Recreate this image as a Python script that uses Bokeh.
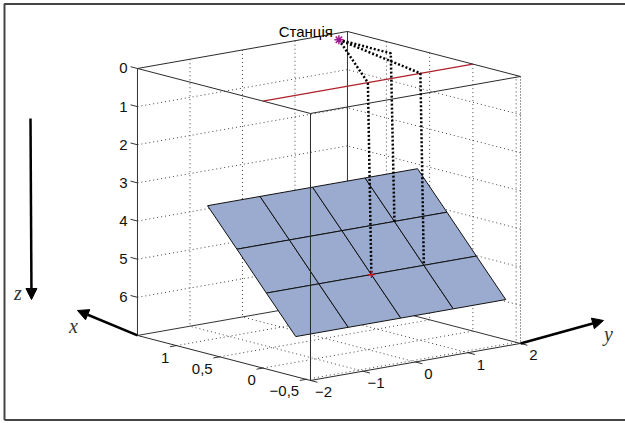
import numpy as np
from bokeh.plotting import figure
from bokeh.models import Range1d, Arrow, NormalHead
from bokeh.core.properties import value
from bokeh.embed import file_html
from bokeh.resources import INLINE

# ---------------- data ----------------
x_lim = [-0.55, 1.45]
y_lim = [-2.0, 2.0]
z_lim = [0.0, 7.0]

x_ticks = [1.0, 0.5, 0.0, -0.5]
x_tick_labels = ["1", "0,5", "0", "\u22120,5"]
y_ticks = [-2.0, -1.0, 0.0, 1.0, 2.0]
y_tick_labels = ["\u22122", "\u22121", "0", "1", "2"]
z_ticks = [0, 1, 2, 3, 4, 5, 6]
z_tick_labels = ["0", "1", "2", "3", "4", "5", "6"]

# tilted layer (plane) grid nodes
plane_x = [0.64, 0.30, -0.04, -0.38]
plane_z = [3.12, 4.06, 5.01, 5.95]
plane_y = [-2.0, -1.0, 0.0, 1.0, 2.0]

# station and ray paths
station = [1.27, 1.54, 0.0]
station_label = "Станція"
ray_top_x = [0.0, 0.67, 0.0]
ray_top_y = [0.0, 1.54, 1.0]
ray_node_ix = [2, 1, 2]
ray_node_y = [0.0, 1.0, 1.0]
red_node = [2, 0.0]          # plane x-index, y
red_line_x = 0.0             # profile line on surface (z = 0)

# ---------------- projection (layout) ----------------
O = (367.4, 82.1)
EX = (-86.5, -22.5)
EY = (52.5, -9.25)
EZ = (0.0, 38.14)


def proj(x, y, z):
    x = np.asarray(x, float); y = np.asarray(y, float); z = np.asarray(z, float)
    sx = O[0] + x * EX[0] + y * EY[0] + z * EZ[0]
    sy = O[1] + x * EX[1] + y * EY[1] + z * EZ[1]
    return sx, sy


def segs(pairs):
    xs, ys = [], []
    for a, b in pairs:
        sx, sy = proj([a[0], b[0]], [a[1], b[1]], [a[2], b[2]])
        xs.append(list(sx)); ys.append(list(sy))
    return xs, ys


p = figure(width=625, height=423, x_range=Range1d(0, 625), y_range=Range1d(423, 0),
           output_backend="svg", toolbar_location=None, min_border=0,
           x_axis_location=None, y_axis_location=None)
p.grid.visible = False
p.outline_line_color = None
p.background_fill_color = "white"
p.border_fill_color = "white"

# outer frame
p.line([4, 4, 640], [419.5, 3.5, 3.5], line_color="#444444", line_width=2)
p.line([4, 640], [419.5, 419.5], line_color="#444444", line_width=2)

x0, x1 = x_lim
y0, y1 = y_lim
z0, z1 = z_lim

# ---------------- grid on back walls and floor ----------------
grid = []
for z in z_ticks[1:]:
    grid.append(((x1, y0, z), (x1, y1, z)))   # x = xmax wall
    grid.append(((x0, y1, z), (x1, y1, z)))   # y = ymax wall
for y in y_ticks[1:-1]:
    grid.append(((x1, y, z0), (x1, y, z1)))
    grid.append(((x0, y, z1), (x1, y, z1)))   # floor
for x in x_ticks:
    grid.append(((x, y1, z0), (x, y1, z1)))
    grid.append(((x, y0, z1), (x, y1, z1)))   # floor
gx, gy = segs(grid)
p.multi_line(gx, gy, line_color="#444444", line_width=1, line_dash="1 3")

# back box edges
back = [((x1, y0, z0), (x1, y0, z1)), ((x1, y1, z0), (x1, y1, z1)),
        ((x1, y0, z1), (x1, y1, z1)), ((x1, y1, z1), (x0, y1, z1))]
bx, by = segs(back)
p.multi_line(bx, by, line_color="#333333", line_width=1)
rx, ry = segs([((x0, y1, z0), (x0, y1, z1))])
p.multi_line(rx, ry, line_color="#333333", line_width=1, line_dash="1 2")

# ---------------- axes ticks and labels ----------------
tk = []
for z in z_ticks:
    tk.append(((x1, y0, z), (x1 + 0.08, y0, z)))
for x in x_ticks:
    tk.append(((x, y0, z1), (x, y0 - 0.12, z1)))
for y in y_ticks:
    tk.append(((x0, y, z1), (x0 - 0.08, y, z1)))
tx, ty = segs(tk)
p.multi_line(tx, ty, line_color="#333333", line_width=1)

font = value("Liberation Sans")
zsx, zsy = proj([x1] * len(z_ticks), [y0] * len(z_ticks), z_ticks)
p.text(x=list(zsx - 10), y=list(zsy), text=z_tick_labels, text_font=font,
       text_font_size="15px", text_color="#111111", text_align="right", text_baseline="middle")
xsx, xsy = proj(x_ticks, [y0] * len(x_ticks), [z1] * len(x_ticks))
p.text(x=list(xsx - 7), y=list(xsy + 12), text=x_tick_labels, text_font=font,
       text_font_size="15px", text_color="#111111", text_align="right", text_baseline="middle")
ysx, ysy = proj([x0] * len(y_ticks), y_ticks, [z1] * len(y_ticks))
p.text(x=list(ysx + 13), y=list(ysy + 12), text=y_tick_labels, text_font=font,
       text_font_size="15px", text_color="#111111", text_align="center", text_baseline="middle")

# ---------------- the tilted layer ----------------
pxs, pys = [], []
for i in range(len(plane_x) - 1):
    for j in range(len(plane_y) - 1):
        cx = [plane_x[i], plane_x[i], plane_x[i + 1], plane_x[i + 1]]
        cy = [plane_y[j], plane_y[j + 1], plane_y[j + 1], plane_y[j]]
        cz = [plane_z[i], plane_z[i], plane_z[i + 1], plane_z[i + 1]]
        sx, sy = proj(cx, cy, cz)
        pxs.append(list(sx)); pys.append(list(sy))
p.patches(pxs, pys, fill_color="#9aabcf", line_color="#111111", line_width=1)

# ---------------- front box edges ----------------
front = [((x0, y0, z0), (x0, y0, z1)),
         ((x1, y0, z0), (x1, y1, z0)), ((x1, y1, z0), (x0, y1, z0)),
         ((x1, y0, z0), (x0, y0, z0)), ((x0, y0, z0), (x0, y1, z0)),
         ((x1, y0, z1), (x0, y0, z1)), ((x0, y0, z1), (x0, y1, z1))]
fx, fy = segs(front)
p.multi_line(fx, fy, line_color="#2a2a2a", line_width=1)

# red profile line on the surface
lx, ly = proj([red_line_x, red_line_x], [y0, y1], [0, 0])
p.line(list(lx), list(ly), line_color="#b0202a", line_width=1.2)

# ---------------- ray paths ----------------
rays_x, rays_y = [], []
for k in range(len(ray_top_x)):
    ix = ray_node_ix[k]
    sx, sy = proj([station[0], ray_top_x[k], plane_x[ix]],
                  [station[1], ray_top_y[k], ray_node_y[k]],
                  [station[2], 0.0, plane_z[ix]])
    rays_x.append(list(sx)); rays_y.append(list(sy))
p.multi_line(rays_x, rays_y, line_color="black", line_width=2.5, line_dash="2 2")

# markers
ssx, ssy = proj([station[0]], [station[1]], [station[2]])
p.scatter(list(ssx), list(ssy), marker="asterisk", size=9, line_color="#a01890", line_width=1.5)
nsx, nsy = proj([plane_x[red_node[0]]], [red_node[1]], [plane_z[red_node[0]]])
p.scatter(list(nsx), list(nsy), marker="cross", size=7, line_color="#d01010", line_width=1.2)

p.text(x=list(ssx - 6), y=list(ssy - 8), text=[station_label], text_font=font,
       text_font_size="15px", text_color="black", text_align="right", text_baseline="alphabetic")

# ---------------- axis direction arrows ----------------
serif = value("Liberation Serif")
p.add_layout(Arrow(end=NormalHead(size=11, fill_color="black", line_color="black"),
                   x_start=30, y_start=118, x_end=31, y_end=299,
                   line_color="black", line_width=2.5))
cx0, cy0 = proj([x1], [y0], [z1])
p.add_layout(Arrow(end=NormalHead(size=11, fill_color="black", line_color="black"),
                   x_start=float(cx0[0]), y_start=float(cy0[0]), x_end=77, y_end=310,
                   line_color="black", line_width=2.5))
cx1, cy1 = proj([x0], [y1], [z1])
p.add_layout(Arrow(end=NormalHead(size=11, fill_color="black", line_color="black"),
                   x_start=float(cx1[0]), y_start=float(cy1[0]), x_end=603, y_end=320,
                   line_color="black", line_width=2.5))
p.text(x=[17.5, 73, 608], y=[292, 325, 333], text=["z", "x", "y"], text_font=serif,
       text_font_style="italic", text_font_size="20px", text_color="#333333",
       text_align="center", text_baseline="middle")

open("out.html", "w").write(file_html(p, INLINE))
